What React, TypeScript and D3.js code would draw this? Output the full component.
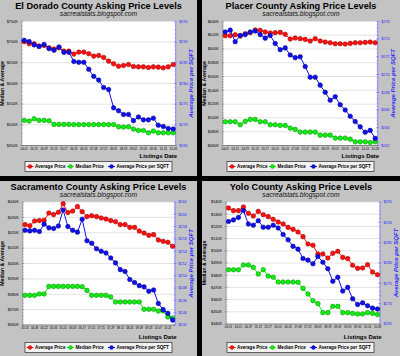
import React from 'react';
import * as d3 from 'd3';

// ---------- categories (listing dates, 2007) ----------
const dates31 = ["04.01","04.08","04.15","04.22","04.29","05.06","05.13","05.20","05.27","06.03","06.10","06.17","06.24","07.01","07.08","07.15","07.22","07.29","08.05","08.12","08.19","08.26","09.02","09.09","09.16","09.23","09.30","10.07","10.14","10.21","10.28"];
const dates32 = ["03.25","04.01","04.08","04.15","04.22","04.29","05.06","05.13","05.20","05.27","06.03","06.10","06.17","06.24","07.01","07.08","07.15","07.22","07.29","08.05","08.12","08.19","08.26","09.02","09.09","09.16","09.23","09.30","10.07","10.14","10.21","10.28"];

// ---------- El Dorado ----------
const elDoradoAvg = [700.7,695.8,695.8,690.2,691.8,686.1,682.9,686.1,678,678,670.8,675.6,675.6,671.6,665.9,667.5,662.7,653.8,647.3,641.6,643.3,645.7,640.8,640,640,638.4,640,639.2,637.6,640,645.7];
const elDoradoMedian = [510.7,509,514.7,510.7,510.7,509.8,501,501,501,501,500.5,500.5,500.5,500.5,500.5,500.5,500.5,500.5,500.5,495.3,494.5,495.3,489.6,486.4,486.4,480.7,484.8,480.7,480.7,480.7,480.7];
const elDoradoSqft = [290.4,290.1,289.3,288.9,289.4,288.4,288.0,288.8,287.5,287.5,285.3,285.1,285.1,283.4,281.7,280.8,279.0,278.5,274.1,273.4,272.5,272.5,271.0,271.9,271.2,271.2,271.6,269.9,269.6,269.1,269.0];

// ---------- Placer ----------
const placerAvg = [619.1,619.1,620.6,618.7,622,623.5,627.4,626.9,624.5,623,623.5,624,621.1,614.3,615.7,614.8,613.8,611.4,614.8,611.4,609.9,608.9,607.5,607.5,607,608,608.9,608.9,609.4,609.9,608.9];
const placerMedian = [494.4,494.4,494.4,490.1,494.9,497.8,497.8,494.4,494.4,490.1,490.1,489.1,489.1,485.2,483.3,479.4,479.4,479.4,479.4,475,475,475,470.7,470.7,470.7,469.2,465.3,465.3,465.3,464.4,465.3];
const placerSqft = [274.8,275.0,273.7,274.4,274.5,274.8,274.9,274.5,274.1,274.4,273.5,272.8,273.0,272.2,271.9,272.0,270.9,269.7,269.7,268.8,268.0,267.1,267.5,266.6,266.0,265.3,264.7,264.1,263.5,263.7,262.8];

// ---------- Sacramento ----------
const sacAvg = [425.3,424.6,427.6,427.9,428.1,432.8,431.8,433.3,438.9,433.1,434.1,437,433.7,430.5,431.1,430.5,429.6,428.9,427.9,427.2,425.3,425.3,423.5,423.5,421.1,419.8,418.3,418.8,415.3,414.4,413.8,411.2];
const sacMedian = [379.3,379.3,379.3,380.2,380.2,385.1,385.1,385.1,385.1,385.1,385.1,385.1,384.9,382.5,379.3,379.3,379.3,379.3,378.2,375,375,375,375,375,375,370.2,370.2,370.2,369.1,369.1,365.2,364.6];
const sacSqft = [257.4,257.3,257.4,257.2,258.4,257.8,257.7,258.1,260.7,258.0,257.4,257.1,259.2,255.7,255.3,254.4,254.0,253.7,252.9,252.1,251.0,250.7,249.4,248.9,248.4,248.2,247.5,247.7,245.5,244.5,243.9,242.8];

// ---------- Yolo ----------
const yoloAvg = [535.1,532.9,532.9,535.9,530.7,528.5,532.3,529.6,528,525.8,523.6,522,519.2,517.6,515.4,511.6,505.6,504.5,497.4,497.4,494.1,497.9,499.6,494.6,493.6,488.1,485.6,485.9,488.6,482.6,480.4];
const yoloMedian = [484.5,484.5,484.5,488.4,488.4,486.4,481,484.5,479.3,478.3,474.4,474.4,474.4,474.4,474.2,469.2,464.6,459.1,456.7,449.3,449.3,454.5,454.5,449.3,449.3,448.7,448.2,448.2,449.3,448.7,447.7];
const yoloSqft = [290.2,290.6,291.2,292.9,289.6,289.3,290.4,288.8,288.8,289.3,288.6,287.0,285.7,284.1,283.4,281.1,280.7,279.8,281.6,280.2,278.6,275.5,276.5,273.1,274.0,271.2,269.8,270.2,269.5,268.9,268.7];

// ---------- legend / series names ----------
const seriesNames = ["Average Price", "Median Price", "Average Price per SQFT"];
const seriesFill = ["#ff1010", "#10f010", "#1010ee"];
const seriesStroke = ["#900000", "#008000", "#000080"];

type Spec = {
  x0: number; y0: number; w: number; h: number;
  title: string;
  pl: number; pr: number; pt: number; pb: number;
  dates: string[];
  avg: number[]; med: number[]; sqft: number[];
  left: [number, number]; leftStep: number;
  right: [number, number]; rightStep: number;
};

const panels: Spec[] = [
  { x0: 0, y0: 0, w: 197, h: 176, title: "El Dorado County Asking Price Levels", pl: 21.7, pr: 175.7, pt: 21.3, pb: 145.5,
    dates: dates31, avg: elDoradoAvg, med: elDoradoMedian, sqft: elDoradoSqft, left: [450, 750], leftStep: 50, right: [265, 295], rightStep: 5 },
  { x0: 202, y0: 0, w: 198, h: 176, title: "Placer County Asking Price Levels", pl: 20.7, pr: 175.7, pt: 21.3, pb: 145.5,
    dates: dates31, avg: placerAvg, med: placerMedian, sqft: placerSqft, left: [460, 640], leftStep: 20, right: [262, 276], rightStep: 2 },
  { x0: 0, y0: 181, w: 197, h: 175, title: "Sacramento County Asking Price Levels", pl: 22.7, pr: 175, pt: 21, pb: 144,
    dates: dates32, avg: sacAvg, med: sacMedian, sqft: sacSqft, left: [360, 440], leftStep: 10, right: [242, 262], rightStep: 2 },
  { x0: 202, y0: 181, w: 198, h: 175, title: "Yolo County Asking Price Levels", pl: 24, pr: 178, pt: 21, pb: 143,
    dates: dates31, avg: yoloAvg, med: yoloMedian, sqft: yoloSqft, left: [440, 540], leftStep: 10, right: [265, 295], rightStep: 5 },
];

const FONT = "'Liberation Sans', Arial, sans-serif";

function Panel({ s }: { s: Spec }) {
  const x = d3.scalePoint<string>().domain(s.dates).range([s.pl, s.pr]).padding(0.5);
  const yL = d3.scaleLinear().domain(s.left).range([s.pb, s.pt]);
  const yR = d3.scaleLinear().domain(s.right).range([s.pb, s.pt]);
  const lt = d3.range(s.left[0], s.left[1] + s.leftStep * 0.01, s.leftStep);
  const rt = d3.range(s.right[0], s.right[1] + s.rightStep * 0.01, s.rightStep);
  const lMinor = d3.range(s.left[0], s.left[1], s.leftStep / 5);
  const rMinor = d3.range(s.right[0], s.right[1], s.rightStep / 5);
  const step = x.step();
  const series = [
    { vals: s.avg, sc: yL },
    { vals: s.med, sc: yL },
    { vals: s.sqft, sc: yR },
  ];
  const cy = (s.pt + s.pb) / 2;
  const legX = 25, legY = 161.5, legW = 147, legH = 10;
  const legItems = [30, 70.5, 111.5];
  return (
    <g transform={`translate(${s.x0},${s.y0})`} fontFamily={FONT}>
      <rect x={0} y={0} width={s.w} height={s.h} fill="#c3c3c3" />
      <text x={s.w / 2} y={9.3} textAnchor="middle" fontSize={9.2} fontWeight="bold" fill="#000">{s.title}</text>
      <text x={s.w / 2} y={16.2} textAnchor="middle" fontSize={6.7} fontStyle="italic" fill="#111">sacrealstats.blogspot.com</text>
      <rect x={s.pl} y={s.pt} width={s.pr - s.pl} height={s.pb - s.pt} fill="#ffffff" />
      {lt.map(v => (
        <line key={'g' + v} x1={s.pl} x2={s.pr} y1={yL(v)} y2={yL(v)} stroke="#dcdcdc" strokeWidth={0.8} />
      ))}
      {/* left axis */}
      <line x1={s.pl} x2={s.pl} y1={s.pt} y2={s.pb} stroke="#8a8a8a" strokeWidth={0.8} />
      {lMinor.map(v => (
        <line key={'lm' + v} x1={s.pl} x2={s.pl + 1.2} y1={yL(v)} y2={yL(v)} stroke="#8a8a8a" strokeWidth={0.5} />
      ))}
      {lt.map(v => (
        <g key={'lt' + v}>
          <line x1={s.pl - 1.5} x2={s.pl + 1.5} y1={yL(v)} y2={yL(v)} stroke="#8a8a8a" strokeWidth={0.6} />
          <text x={s.pl - 4} y={yL(v) + 1.3} textAnchor="end" fontSize={3.8} fill="#000">{`$${v}K`}</text>
        </g>
      ))}
      {/* right axis */}
      <line x1={s.pr} x2={s.pr} y1={s.pt} y2={s.pb} stroke="#7070ff" strokeWidth={0.8} />
      {rMinor.map(v => (
        <line key={'rm' + v} x1={s.pr - 1.2} x2={s.pr} y1={yR(v)} y2={yR(v)} stroke="#7070ff" strokeWidth={0.5} />
      ))}
      {rt.map(v => (
        <g key={'rt' + v}>
          <line x1={s.pr - 1.5} x2={s.pr + 1.5} y1={yR(v)} y2={yR(v)} stroke="#7070ff" strokeWidth={0.6} />
          <text x={s.pr + 3.5} y={yR(v) + 1.3} textAnchor="start" fontSize={3.8} fill="#2a2aff">{`$${v}`}</text>
        </g>
      ))}
      {/* bottom axis */}
      <line x1={s.pl} x2={s.pr} y1={s.pb} y2={s.pb} stroke="#707070" strokeWidth={0.8} />
      {s.dates.map((d) => (
        <line key={'xt' + d} x1={x(d)! - step / 2} x2={x(d)! - step / 2} y1={s.pb} y2={s.pb + 1.2} stroke="#707070" strokeWidth={0.5} />
      ))}
      {s.dates.map((d, i) => i % 2 === 0 ? (
        <text key={'xl' + d} x={x(d)!} y={s.pb + 4.2} textAnchor="middle" fontSize={2.9} fill="#000">{d}</text>
      ) : null)}
      {/* series */}
      {series.map((se, k) => {
        const line = d3.line<number>().x((_, i) => x(s.dates[i])!).y(v => se.sc(v));
        return (
          <g key={'s' + k}>
            <path d={line(se.vals) || ''} fill="none" stroke={seriesFill[k]} strokeWidth={1} />
            {se.vals.map((v, i) => (
              <circle key={i} cx={x(s.dates[i])!} cy={se.sc(v)} r={2.3} fill={seriesFill[k]} stroke={seriesStroke[k]} strokeWidth={0.5} />
            ))}
          </g>
        );
      })}
      {/* axis titles */}
      <text transform={`translate(${3.8},${cy}) rotate(-90)`} textAnchor="middle" fontSize={5.2} fontWeight="bold" fill="#000">Median &amp; Average</text>
      <text transform={`translate(${s.pr + 17.5},${cy}) rotate(-90)`} textAnchor="middle" fontSize={6} fontWeight="bold" fontStyle="italic" fill="#2a2aff">Average Price per SQFT</text>
      <text x={s.pr + 1.5} y={157.5} textAnchor="end" fontSize={6} fontWeight="bold" fill="#000">Listings Date</text>
      {/* legend */}
      <rect x={legX} y={legY} width={legW} height={legH} fill="#f2f2f2" stroke="#404040" strokeWidth={0.8} />
      {legItems.map((lx, k) => (
        <g key={'li' + k}>
          <line x1={lx - 3.5} x2={lx + 3.5} y1={legY + legH / 2} y2={legY + legH / 2} stroke={seriesFill[k]} strokeWidth={1} />
          <circle cx={lx} cy={legY + legH / 2} r={1.9} fill={seriesFill[k]} stroke={seriesStroke[k]} strokeWidth={0.4} />
          <text x={lx + 5} y={legY + legH / 2 + 1.6} fontSize={4.6} fontWeight="bold" fill="#000">{seriesNames[k]}</text>
        </g>
      ))}
    </g>
  );
}

export default function App() {
  return (
    <svg width={400} height={356} viewBox="0 0 400 356" style={{ position: 'absolute', left: 0, top: 0, display: 'block' }}>
      <rect x={0} y={0} width={400} height={356} fill="#000" />
      {panels.map((p, i) => <Panel key={i} s={p} />)}
    </svg>
  );
}
